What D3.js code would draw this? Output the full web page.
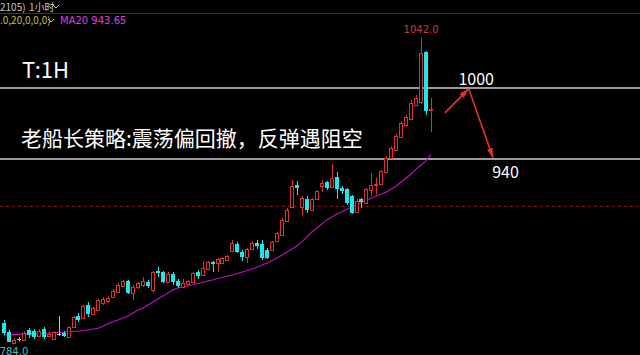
<!DOCTYPE html>
<html>
<head>
<meta charset="utf-8">
<script src="https://cdn.jsdelivr.net/npm/d3@7"></script>
<style>
body{margin:0;background:#000;overflow:hidden}
svg{display:block}
</style>
</head>
<body>
<div id="chart"></div>
<script>
// hourly candles (oldest first)
var openP = [801.4,793.8,784.6,787.9,787.0,795.5,794.7,790.4,796.3,790.4,
	787.9,792.1,793.0,789.6,798.0,807.3,805.6,816.6,809.0,812.4,
	818.3,820.0,823.4,827.6,832.7,836.9,826.8,831.8,833.5,836.1,
	829.3,845.4,844.5,836.1,842.8,836.9,831.8,834.4,836.1,844.5,
	842.0,847.0,853.0,852.1,852.1,854.7,862.3,868.2,861.4,857.2,
	863.9,869.0,868.2,863.1,863.1,870.7,875.8,887.6,899.4,918.0,
	899.4,906.2,896.9,906.2,917.2,920.6,916.3,924.8,915.5,914.6,
	908.7,895.2,906.2,902.8,913.8,918.0,918.9,929.0,940.8,947.6,
	958.6,968.7,973.8,985.6,988.2,1030.4,981.4];
var closeP = [793.0,785.4,787.0,787.9,793.0,791.3,789.6,794.7,789.6,792.1,
	793.8,792.1,790.4,798.0,806.5,803.9,815.8,809.0,814.1,820.8,
	821.7,822.5,828.5,833.5,836.9,826.8,831.8,835.2,836.9,832.7,
	844.5,843.7,836.1,842.8,836.1,832.7,835.2,836.9,843.7,841.1,
	847.9,853.0,851.3,855.5,856.3,858.0,869.0,861.4,857.2,863.9,
	869.0,866.5,856.3,856.3,869.9,877.5,888.5,896.9,917.2,915.5,
	907.0,896.9,906.2,913.0,919.7,915.5,923.9,914.6,913.0,902.8,
	894.4,904.5,903.7,914.6,918.0,918.9,929.9,940.8,949.3,959.4,
	970.4,975.5,987.3,991.5,1029.6,980.6,982.3];
var highP = [803.9,795.5,788.7,789.6,794.7,797.2,796.3,796.3,798.0,793.8,
	794.7,807.3,794.7,798.9,807.3,809.9,816.6,819.2,814.9,821.7,
	823.4,824.2,830.1,835.2,837.8,837.8,833.5,836.1,840.3,837.8,
	845.4,848.7,845.4,844.5,844.5,838.6,838.6,837.8,844.5,846.2,
	853.8,853.8,853.8,856.3,857.2,858.9,871.6,869.9,863.1,864.8,
	870.7,871.6,871.6,864.8,870.7,878.3,890.1,898.6,922.3,921.4,
	908.7,908.7,907.0,913.8,922.3,921.4,935.8,929.0,917.2,915.5,
	909.6,906.2,907.0,915.5,928.2,923.9,930.7,942.5,951.0,961.1,
	972.1,977.2,989.9,994.1,1042.0,1031.3,991.5];
var lowP = [791.3,785.0,784.0,786.2,786.2,788.7,787.9,789.6,787.9,789.6,
	787.0,790.4,789.6,788.7,797.2,802.3,804.8,806.5,808.2,811.6,
	816.6,818.3,822.5,826.8,831.8,825.9,820.8,830.1,831.8,831.0,
	827.6,840.3,835.2,835.2,833.5,831.0,831.0,833.5,835.2,838.6,
	841.1,846.2,844.5,844.5,851.3,853.8,861.4,860.6,853.8,852.1,
	863.1,863.9,854.7,855.5,862.3,869.9,874.9,886.8,898.6,909.6,
	892.7,894.4,896.1,905.4,912.1,913.8,915.5,906.2,910.4,901.1,
	893.5,894.4,898.6,902.0,908.7,909.6,918.0,928.2,940.0,946.8,
	957.7,967.0,973.0,984.8,986.5,977.2,962.8];
var ma20 = [791.3,791.4,791.6,791.8,792.0,792.2,792.4,792.5,792.7,792.9,
	793.0,793.3,793.6,794.1,794.2,794.6,795.1,795.7,796.3,797.0,
	798.9,801.0,802.7,803.9,805.6,807.3,809.9,812.4,814.1,816.6,
	819.2,821.7,824.2,826.8,829.3,831.0,831.8,832.7,833.9,834.8,
	835.6,836.9,837.7,839.0,839.9,841.1,842.0,843.2,844.5,845.8,
	847.0,848.7,850.4,852.1,854.2,856.3,858.9,861.4,863.9,866.5,
	869.9,874.1,878.3,881.7,885.1,888.5,891.0,893.5,895.2,897.3,
	899.4,901.1,903.2,905.4,907.0,908.7,910.4,912.1,914.6,917.2,
	920.6,923.9,927.3,931.5,934.9,938.7,943.65];

var levels = [1000, 940];      // drawn resistance / target lines
var dashLevel = 900;
var levelLabels = [{t:"1000", i:95.1, v:1000, dy:-3}, {t:"940", i:101, v:940, dy:19}];
// arrow path: up to 1000 then down to 940 (index, price)
var arrowPts = [[88.8, 979], [93.6, 999.3], [98.5, 940.8]];
var maxIdx = 84, minIdx = 2;

var w = 640, h = 355;

var svg = d3.select("#chart").append("svg")
	.attr("width", w).attr("height", h)
	.style("background", "#000");

var xScale = d3.scaleLinear().domain([0, openP.length - 1]).range([4, 431]);
var yScale = d3.scaleLinear().domain([940, 1000]).range([159, 88]);

//header bar
svg.append("text").attr("x", 0).attr("y", 11)
	.style("font", "10px 'Noto Sans CJK SC'").attr("fill", "#c8c8c8")
	.text("2105)");
svg.append("text").attr("x", 29).attr("y", 11)
	.style("font", "10px 'Noto Sans CJK SC'").attr("fill", "#c8c8c8")
	.text("1小时");
svg.append("path").attr("d", "M53,5 l3,3 l3,-3").attr("stroke", "#c8c8c8").attr("fill", "none");
svg.append("line").attr("x1", 0).attr("x2", w).attr("y1", 13.5).attr("y2", 13.5)
	.attr("stroke", "#8c1010").attr("stroke-width", 1);
svg.append("text").attr("x", 0).attr("y", 24)
	.style("font", "10px 'Noto Sans CJK SC'").attr("fill", "#c8bc50")
	.text(".0,20,0,0,0)");
svg.append("path").attr("d", "M48,19 l3,3 l3,-3").attr("stroke", "#d8d000").attr("fill", "none");
svg.append("text").attr("x", 60).attr("y", 24)
	.style("font", "10px 'DejaVu Sans'").attr("fill", "#e03ce0")
	.text("MA20 " + ma20[ma20.length - 1].toFixed(2));

//dashed level
svg.append("line").attr("x1", 0).attr("x2", w)
	.attr("y1", yScale(dashLevel)).attr("y2", yScale(dashLevel))
	.attr("stroke", "#8a1c1c").attr("stroke-dasharray", "3,3");

//white levels
svg.selectAll(".lvl").data(levels).enter().append("line")
	.attr("class", "lvl")
	.attr("x1", 0).attr("x2", w)
	.attr("y1", function(d){ return yScale(d); })
	.attr("y2", function(d){ return yScale(d); })
	.attr("stroke", "#cfcfcf").attr("stroke-width", 1.3);

//MA20
var maLine = d3.line()
	.x(function(d, i){ return xScale(i); })
	.y(function(d){ return yScale(d); });
svg.append("path").datum(ma20)
	.attr("d", maLine)
	.attr("fill", "none").attr("stroke", "#c010c0").attr("stroke-width", 1.1);

//candles
var idx = d3.range(openP.length);
function colorOf(i){
	if (openP[i] === closeP[i]) return "#c0c0c0";
	return closeP[i] > openP[i] ? "#dc3232" : "#1ee8ea";
}
var g = svg.append("g").attr("shape-rendering", "crispEdges");
var cx = function(i){ return Math.round(xScale(i)); };

g.selectAll(".wick").data(idx).enter().append("line")
	.attr("x1", function(i){ return cx(i) + 0.5; })
	.attr("x2", function(i){ return cx(i) + 0.5; })
	.attr("y1", function(i){ return yScale(highP[i]); })
	.attr("y2", function(i){ return yScale(lowP[i]); })
	.attr("stroke", colorOf);

g.selectAll(".body").data(idx).enter().append("rect")
	.attr("x", function(i){ return closeP[i] > openP[i] ? cx(i) - 1.5 : cx(i) - 2; })
	.attr("width", function(i){ return closeP[i] > openP[i] ? 3 : 4; })
	.attr("y", function(i){ return Math.round(yScale(Math.max(openP[i], closeP[i]))) + (closeP[i] > openP[i] ? 0.5 : 0); })
	.attr("height", function(i){
		var hh = Math.abs(yScale(openP[i]) - yScale(closeP[i]));
		return Math.max(1, Math.round(hh));
	})
	.attr("fill", function(i){ return closeP[i] > openP[i] ? "#000" : colorOf(i); })
	.attr("stroke", function(i){ return closeP[i] > openP[i] ? colorOf(i) : "none"; })
	.attr("stroke-width", 1);

//max / min labels
svg.append("text").attr("x", xScale(maxIdx)).attr("y", yScale(highP[maxIdx]) - 5)
	.attr("text-anchor", "middle").style("font", "10px 'DejaVu Sans'")
	.attr("fill", "#c83c3c").text(highP[maxIdx].toFixed(1));
svg.append("text").attr("x", xScale(minIdx)).attr("y", yScale(lowP[minIdx]) + 11)
	.attr("text-anchor", "middle").style("font", "10px 'DejaVu Sans'")
	.attr("fill", "#3cc0c0").text(lowP[minIdx].toFixed(1));

//annotations
svg.append("text").attr("x", 22).attr("y", 78)
	.style("font", "22px 'Noto Sans CJK SC'").attr("fill", "#fff").text("T:1H");
svg.append("text").attr("x", 21).attr("y", 146)
	.style("font", "21px 'Noto Sans CJK SC'").attr("fill", "#fff")
	.text("老船长策略:震荡偏回撤，反弹遇阻空");

svg.selectAll(".lbl").data(levelLabels).enter().append("text")
	.attr("x", function(d){ return xScale(d.i); })
	.attr("y", function(d){ return yScale(d.v) + d.dy; })
	.attr("text-anchor", "middle")
	.style("font", "16px 'Noto Sans CJK SC'").attr("fill", "#fff")
	.text(function(d){ return d.t; });

var defs = svg.append("defs");
defs.append("marker").attr("id", "ah")
	.attr("viewBox", "0 0 10 6").attr("refX", 10).attr("refY", 3)
	.attr("markerWidth", 10).attr("markerHeight", 6)
	.attr("markerUnits", "userSpaceOnUse").attr("orient", "auto")
	.append("path").attr("d", "M0,0 L10,3 L0,6 Z").attr("fill", "#e83030");

for (var k = 0; k < arrowPts.length - 1; k++) {
	svg.append("line")
		.attr("x1", xScale(arrowPts[k][0])).attr("y1", yScale(arrowPts[k][1]))
		.attr("x2", xScale(arrowPts[k + 1][0])).attr("y2", yScale(arrowPts[k + 1][1]))
		.attr("stroke", "#e83030").attr("stroke-width", 1.6)
		.attr("marker-end", "url(#ah)");
}
</script>
</body>
</html>
